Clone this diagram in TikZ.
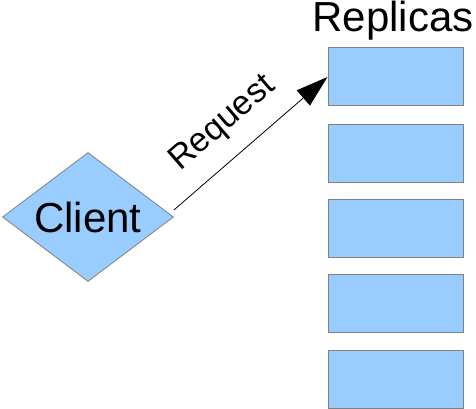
\documentclass[tikz,border=0pt]{standalone}
\usepackage{fontspec}
\setmainfont{Liberation Sans}
\usetikzlibrary{shapes.geometric,arrows.meta}
\definecolor{boxfill}{HTML}{99CCFF}
\definecolor{boxline}{HTML}{808080}
\tikzset{
  replica/.style={draw=boxline, line width=1pt, fill=boxfill, rectangle,
    minimum width=135pt, minimum height=58pt, inner sep=0pt},
  clientshape/.style={draw=boxline, line width=0.8pt, fill=boxfill, diamond,
    aspect=1.3256, minimum width=171pt, minimum height=129pt, inner sep=0pt,
    font=\fontsize{42}{42}\selectfont},
  request/.style={line width=0.8pt, -{Triangle[length=32pt,width=20pt]}},
  heading/.style={font=\fontsize{42}{42}\selectfont, inner sep=0pt, anchor=base}
}
\begin{document}
\begin{tikzpicture}[x=1pt, y=-1pt]
  \useasboundingbox (0,0) rectangle (476,409);
  % replica stack
  \node[replica] (r1) at (395.5,77) {};
  \node[replica] (r2) at (395.5,153) {};
  \node[replica] (r3) at (395.5,228) {};
  \node[replica] (r4) at (395.5,303.5) {};
  \node[replica] (r5) at (395.5,379) {};
  \node[heading] (title) at (393,32) {Replicas};
  % client
  \node[clientshape] (client) at (88,217) {Client};
  % request arrow
  \draw[request] ([yshift=7pt]client.east) -- (r1.west)
    node[pos=0.46, sloped, yshift=33pt, font=\fontsize{34}{34}\selectfont, inner sep=0pt] (req) {Request};
\end{tikzpicture}
\end{document}
